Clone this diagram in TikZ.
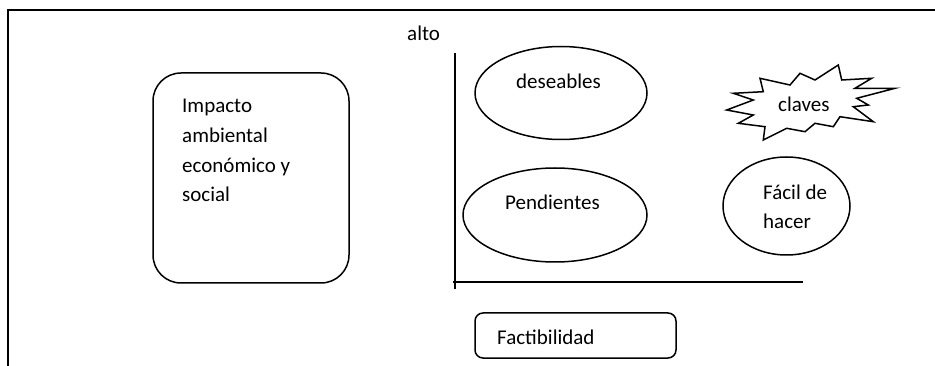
\documentclass[tikz,border=0pt]{standalone}
\usepackage{fontspec}
\setmainfont{Carlito}
\usetikzlibrary{shapes.geometric,calc}
\tikzstyle{shapestyle}=[draw = black,line width=1.5pt]
\tikzstyle{ovalstyle}=[ellipse,shapestyle,inner sep=0pt]
\tikzstyle{boxstyle}=[rectangle,shapestyle,inner sep=0pt]
\tikzstyle{textstyle}=[inner sep=0pt,anchor=base west,align=left]

\begin{document}
\begin{tikzpicture}[x=1pt,y=-1pt,font=\fontsize{21}{29.7}\selectfont]

      % picture size is the size of the reference
      \useasboundingbox (0,0) rectangle (935,366);
      \def\lw{2.2pt} % frame line width

      % outer frame (only top and left)
      \coordinate (fb) at (8,366);
      \coordinate (fc) at (8,10);
      \coordinate (fr) at (935,10);
      \draw[line width=\lw] (fb) -- (fc) -- (fr);

      % left box
      % note: base of a multi line node is the last line
      \node[boxstyle,rounded corners=28pt,minimum width=196pt,minimum height=210pt] at (251,178) (impacto) {};
      \node[textstyle] at (182,202) (impactotext) {Impacto\\ambiental\\económico y\\social};

      % axes
      \coordinate (ytop) at (455,53);
      \coordinate (ybot) at (455,289);
      \coordinate (xleft) at (453,282);
      \coordinate (xright) at (803,282);
      \draw[shapestyle] (ytop) -- (ybot);
      \draw[shapestyle] (xleft) -- (xright);
      \node[textstyle] at (407,41) (alto) {alto};

      % ovals
      \node[ovalstyle,minimum width=172pt,minimum height=93pt] at (561,93) (deseables) {};
      \node[textstyle] at (516,89) {deseables};
      \node[ovalstyle,minimum width=184pt,minimum height=94pt] at (555,215) (pendientes) {};
      \node[textstyle] at (505,210) {Pendientes};
      \node[ovalstyle,minimum width=127pt,minimum height=98pt] at (786.5,206) (facil) {};
      \node[textstyle] at (763,229) {Fácil de\\hacer};

      % burst
      \draw[shapestyle,line join=miter] (726.7,110) -- (753.3,100) -- (733.3,93.3) -- (763.3,91.7)
            -- (760,78.3) -- (790,85) -- (800,73.3) -- (815,80) -- (838.3,65) -- (841.7,80)
            -- (871.7,78.3) -- (855,88.3) -- (895,88.3) -- (856.7,98.3) -- (868.3,105)
            -- (853.3,106.7) -- (873.3,121.7) -- (840,116.7) -- (833.3,126.7) -- (815,123.3)
            -- (805,131.7) -- (786.7,128.3) -- (763.3,140) -- (765,126.7) -- (738.3,123.3)
            -- (753.3,115) -- cycle;
      \node[textstyle] at (778,112) (claves) {claves};

      % bottom box
      \node[boxstyle,rounded corners=8pt,minimum width=201pt,minimum height=45pt] at (575.5,335.5) (factib) {};
      \node[textstyle] at (497,344) {Factibilidad};

   \end{tikzpicture}
\end{document}
